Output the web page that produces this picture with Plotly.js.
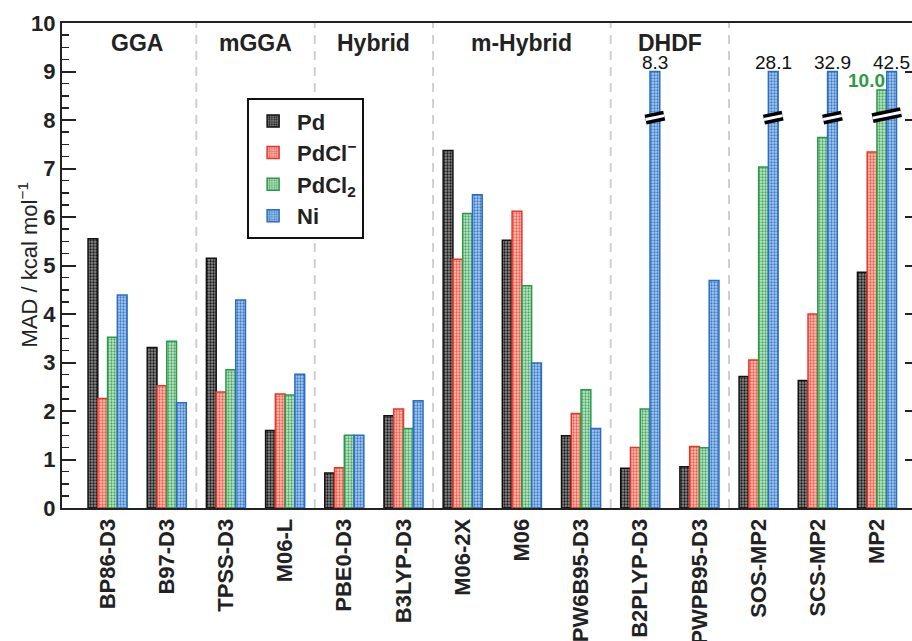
<!DOCTYPE html>
<html>
<head>
<meta charset="utf-8">
<script src="https://cdn.plot.ly/plotly-3.0.1.min.js"></script>
<style>
  html, body { margin: 0; padding: 0; overflow: hidden; background: #fff; }
  #chart { width: 920px; height: 641px; }
</style>
</head>
<body>
<div id="chart"></div>
<script>
// ---------------- data ----------------
const categories = ['BP86-D3','B97-D3','TPSS-D3','M06-L','PBE0-D3','B3LYP-D3','M06-2X','M06',
                    'PW6B95-D3','B2PLYP-D3','PWPB95-D3','SOS-MP2','SCS-MP2','MP2'];
const seriesNames = ['Pd', 'PdCl<sup>−</sup>', 'PdCl<sub>2</sub>', 'Ni'];

const pdValues    = [5.55, 3.31, 5.15, 1.60, 0.72, 1.90, 7.37, 5.52, 1.49, 0.82, 0.85, 2.71, 2.63, 4.86];
const pdclValues  = [2.26, 2.52, 2.39, 2.35, 0.83, 2.04, 5.13, 6.12, 1.95, 1.25, 1.27, 3.05, 4.00, 7.34];
const pdcl2Values = [3.52, 3.44, 2.85, 2.33, 1.50, 1.64, 6.07, 4.58, 2.44, 2.04, 1.24, 7.03, 7.64, 10.0];
const niValues    = [4.39, 2.17, 4.29, 2.76, 1.50, 2.21, 6.46, 2.99, 1.64, 8.3, 4.69, 28.1, 32.9, 42.5];

// heights actually drawn (broken bars are cut at the axis break)
const pdcl2Drawn  = [3.52, 3.44, 2.85, 2.33, 1.50, 1.64, 6.07, 4.58, 2.44, 2.04, 1.24, 7.03, 7.64, 8.62];
const niDrawn     = [4.39, 2.17, 4.29, 2.76, 1.50, 2.21, 6.46, 2.99, 1.64, 9.0, 4.69, 9.0, 9.0, 9.0];

// method families
const groupNames = ['GGA', 'mGGA', 'Hybrid', 'm-Hybrid', 'DHDF', null];
const groupSizes = [2, 2, 2, 3, 2, 3];

// broken bars: category and which series the break mark spans
const breaks = [
  {cat: 'B2PLYP-D3', series: [3], at: 8.05},
  {cat: 'SOS-MP2',   series: [3], at: 8.05},
  {cat: 'SCS-MP2',   series: [3], at: 8.05},
  {cat: 'MP2',       series: [2, 3], at: 8.1}
];
// labels of true values for broken bars
const breakLabels = [
  {cat: 'B2PLYP-D3', series: 3, value: 8.3},
  {cat: 'SOS-MP2',   series: 3, value: 28.1},
  {cat: 'SCS-MP2',   series: 3, value: 32.9},
  {cat: 'MP2',       series: 3, value: 42.5},
  {cat: 'MP2',       series: 2, value: 10.0, green: true}
];

// ---------------- styling ----------------
const FONT = '"Liberation Sans", Arial, Helvetica, sans-serif';
const styles = [
  {line: '#111111', fg: '#1a1a1a', bg: '#8a8a8a'},
  {line: '#e8352a', fg: '#ee5a4a', bg: '#fcc3b8'},
  {line: '#2a9a45', fg: '#4aa865', bg: '#c4e6cc'},
  {line: '#2a6dc2', fg: '#3a7cc8', bg: '#accbee'}
];
const bargap = 0.34;
const nSeries = 4;
const bw = (1 - bargap) / nSeries;
const offsetOf = s => (s - (nSeries - 1) / 2) * bw;

const xIdx = categories.map((c, i) => i);
const drawn = [pdValues, pdclValues, pdcl2Drawn, niDrawn];
const actual = [pdValues, pdclValues, pdcl2Values, niValues];

const traces = drawn.map((arr, s) => ({
  type: 'bar',
  name: seriesNames[s],
  x: xIdx,
  y: arr,
  customdata: actual[s],
  hovertemplate: '%{customdata}<extra>' + seriesNames[s] + '</extra>',
  marker: {
    color: styles[s].bg,
    line: {color: styles[s].line, width: 1.5},
    pattern: {shape: '.', fgcolor: styles[s].fg, bgcolor: styles[s].bg, size: 3, solidity: 0.45, fillmode: 'replace'}
  }
}));

// ---------------- shapes / annotations ----------------
const shapes = [];
const annotations = [];

// group separators + group labels
let start = 0;
groupSizes.forEach((n, g) => {
  const end = start + n;
  if (g < groupSizes.length - 1) {
    shapes.push({type: 'line', xref: 'x', yref: 'paper', x0: end - 0.5, x1: end - 0.5, y0: 0, y1: 1,
                 line: {color: '#cfcfcf', width: 2, dash: '9px,7px'}, layer: 'below'});
  }
  if (groupNames[g]) {
    annotations.push({x: (start + end - 1) / 2, y: 9.58, xref: 'x', yref: 'y', text: groupNames[g],
                      showarrow: false, font: {family: FONT, size: 23, color: '#222', weight: 'bold'}});
  }
  start = end;
});

// axis-break marks
const pxPerX = 59.2, pxPerY = 48.45, extra = 0.075, slope = 0.21;
breaks.forEach(b => {
  const i = categories.indexOf(b.cat);
  const offs = b.series.map(offsetOf);
  const cx = i + (Math.min(...offs) + Math.max(...offs)) / 2;
  const half = (b.series.length * bw) / 2 + extra;
  const dy = slope * half * pxPerX / pxPerY;
  const seg = {type: 'line', xref: 'x', yref: 'y', x0: cx - half, x1: cx + half, y0: b.at - dy, y1: b.at + dy};
  shapes.push(Object.assign({}, seg, {line: {color: '#000', width: 10}}));
  shapes.push(Object.assign({}, seg, {line: {color: '#fff', width: 3}}));
});

// true-value labels for broken bars
breakLabels.forEach(l => {
  const i = categories.indexOf(l.cat);
  const top = drawn[l.series][i];
  if (l.green) {
    annotations.push({x: i + offsetOf(l.series) + bw / 2, y: top, xref: 'x', yref: 'y',
      text: l.value.toFixed(1), showarrow: false, xanchor: 'right', yanchor: 'bottom', yshift: -3,
      font: {family: FONT, size: 19, color: '#2a9a45', weight: 'bold'}});
  } else {
    annotations.push({x: i + offsetOf(l.series), y: top, xref: 'x', yref: 'y',
      text: l.value.toFixed(1), showarrow: false, xanchor: 'center', yanchor: 'bottom', yshift: -3,
      font: {family: FONT, size: 19, color: '#111'}});
  }
});

// y-axis title (placed as an annotation to match the original position)
annotations.push({xref: 'paper', yref: 'paper', x: 0, y: 0.5, xanchor: 'center', yanchor: 'middle',
  xshift: -35, textangle: -90, showarrow: false, text: 'MAD / kcal mol<sup>−1</sup>',
  font: {family: FONT, size: 22, color: '#222'}});

const layout = {
  width: 920, height: 641,
  margin: {l: 62, r: 1, t: 23, b: 133},
  paper_bgcolor: '#fff', plot_bgcolor: '#fff',
  barmode: 'group', bargap: bargap, bargroupgap: 0,
  font: {family: FONT, color: '#222'},
  showlegend: true,
  legend: {
    x: 0.216, y: 0.845, xanchor: 'left', yanchor: 'top',
    bordercolor: '#111', borderwidth: 2, bgcolor: '#fff',
    font: {family: FONT, size: 22, color: '#222', weight: 'bold'},
    tracegroupgap: 0, itemwidth: 38
  },
  xaxis: {
    range: [-0.77, 13.71],
    tickvals: xIdx, ticktext: categories, tickangle: -90,
    tickfont: {family: FONT, size: 22, color: '#222', weight: 'bold'},
    ticks: '', showline: true, linecolor: '#222', linewidth: 2, mirror: true,
    showgrid: false, zeroline: false
  },
  yaxis: {
    range: [0, 10], tickvals: [0,1,2,3,4,5,6,7,8,9,10],
    ticks: 'inside', ticklen: 14, tickwidth: 2, tickcolor: '#222',
    minor: {dtick: 0.25, ticks: 'inside', ticklen: 7, tickwidth: 1.5, tickcolor: '#222', showgrid: false},
    tickfont: {family: FONT, size: 22, color: '#222', weight: 'bold'},
    showline: true, linecolor: '#222', linewidth: 2, mirror: 'allticks',
    showgrid: false, zeroline: false
  },
  shapes: shapes,
  annotations: annotations
};

Plotly.newPlot('chart', traces, layout, {displayModeBar: false, staticPlot: true});
</script>
</body>
</html>
